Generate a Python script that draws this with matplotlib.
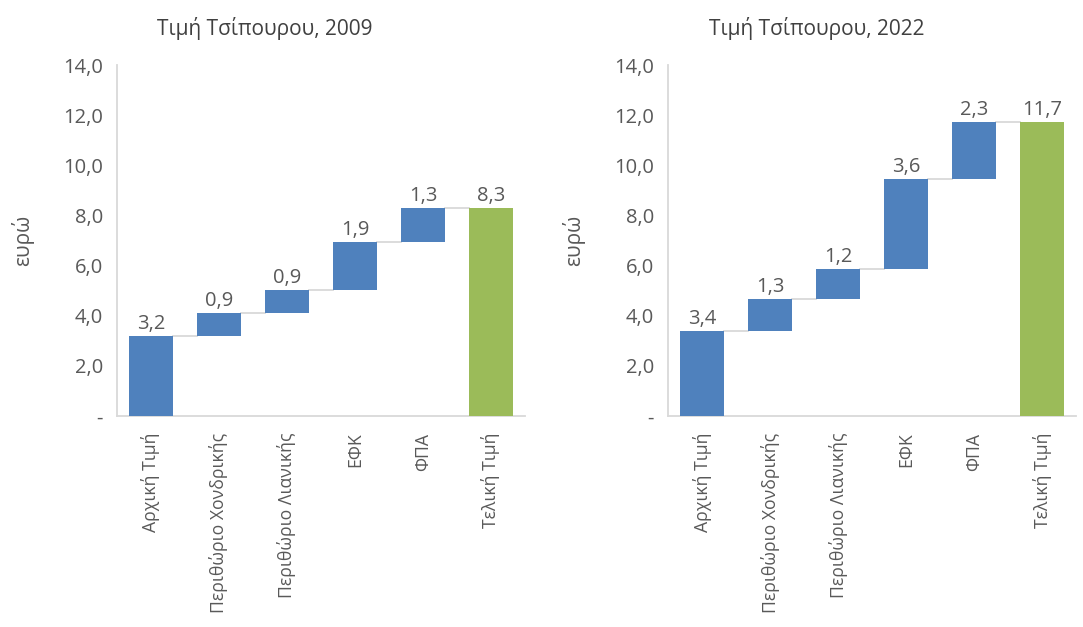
import matplotlib
matplotlib.use("Agg")
import matplotlib.pyplot as plt
import numpy as np

plt.rcParams['font.family'] = ['Open Sans', 'Noto Sans', 'DejaVu Sans']

categories = ["Αρχική Τιμή", "Περιθώριο Χονδρικής", "Περιθώριο Λιανικής", "ΕΦΚ", "ΦΠΑ", "Τελική Τιμή"]
steps_2009 = [3.19, 0.92, 0.92, 1.91, 1.34]
steps_2022 = [3.38, 1.28, 1.22, 3.58, 2.28]
titles = ["Τιμή Τσίπουρου, 2009", "Τιμή Τσίπουρου, 2022"]
yticks = [0, 2, 4, 6, 8, 10, 12, 14]
ytick_labels = ["-", "2,0", "4,0", "6,0", "8,0", "10,0", "12,0", "14,0"]

BLUE = "#4f81bd"
GREEN = "#9bbb59"
GRID = "#d9d9d9"
TXT = "#595959"

W, H = 1083, 627
fig = plt.figure(figsize=(W/100, H/100), dpi=100)

def fmt(v):
    return f"{v:.1f}".replace(".", ",")

axes_px = [(117, 525), (668, 1076)]
title_x = [265, 817]
for (x0, x1), steps, title, tx in zip(axes_px, [steps_2009, steps_2022], titles, title_x):
    ax = fig.add_axes([x0/W, 1-416/H, (x1-x0)/W, (416-65)/H])
    total = sum(steps)
    bottoms = list(np.concatenate([[0], np.cumsum(steps)[:-1]])) + [0]
    heights = list(steps) + [total]
    colors = [BLUE]*len(steps) + [GREEN]
    x = np.arange(len(categories))
    bw = 0.65
    ax.bar(x, heights, bottom=bottoms, width=bw, color=colors, zorder=3)
    tops = [b + h for b, h in zip(bottoms, heights)]
    for i in range(len(categories)-1):
        ax.plot([x[i]+bw/2, x[i+1]-bw/2], [tops[i], tops[i]], color=GRID, lw=1.3, zorder=2)
    for i, (t, h) in enumerate(zip(tops, heights)):
        ax.text(x[i], t + 0.08, fmt(h), ha='center', va='bottom', fontsize=14.5, color=TXT)
    ax.set_xlim(-0.5, len(categories)-0.5)
    ax.set_ylim(0, 14)
    ax.set_yticks(yticks)
    ax.set_yticklabels(ytick_labels, fontsize=14.5, color=TXT)
    ax.set_xticks(x)
    ax.set_xticklabels(categories, rotation=90, fontsize=12.7, color=TXT, va='top')
    ax.tick_params(axis='both', length=0, pad=10)
    ax.tick_params(axis='x', pad=12)
    for s in ['top', 'right']:
        ax.spines[s].set_visible(False)
    for s in ['left', 'bottom']:
        ax.spines[s].set_color(GRID)
        ax.spines[s].set_linewidth(1.3)
    ax.set_ylabel("ευρώ", fontsize=15, color=TXT, labelpad=21)
    fig.text(tx/W, 1-28/H, title, ha='center', va='center', fontsize=15, color="#404040")

fig.savefig("out.png", dpi=100, facecolor='white')
